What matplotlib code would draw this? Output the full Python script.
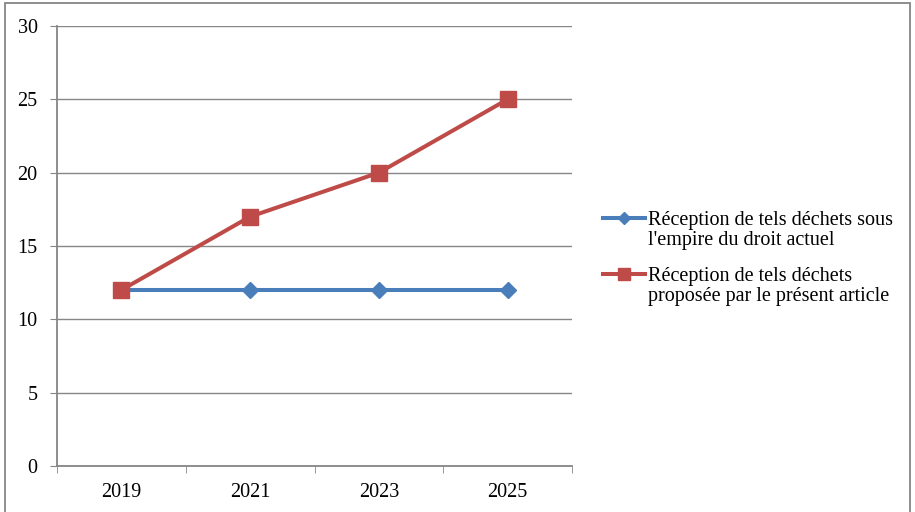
import matplotlib
matplotlib.use("Agg")
import matplotlib.pyplot as plt
from matplotlib.lines import Line2D
from matplotlib.patches import Rectangle

years = ["2019", "2021", "2023", "2025"]
droit_actuel = [12, 12, 12, 12]
present_article = [12, 17, 20, 25]
labels = ["Réception de tels déchets sous\nl'empire du droit actuel",
          "Réception de tels déchets\nproposée par le présent article"]

plt.rcParams["font.family"] = ["Liberation Serif", "DejaVu Serif"]
grey = "#868686"
blue = "#4A7EBB"
red = "#BE4B48"
W, H = 915, 512

fig = plt.figure(figsize=(W / 100, H / 100), dpi=100, facecolor="white")
ax = fig.add_axes([57 / W, 46 / H, 515 / W, 440 / H])

x = range(len(years))
styles = [dict(color=blue, marker="D", ms=8.5), dict(color=red, marker="s", ms=11.5)]
for values, st, lab in zip([droit_actuel, present_article], styles, labels):
    ax.plot(x, values, lw=2.9, mec=st["color"], label=lab, zorder=3, **st)

ax.set_xlim(-0.5, len(years) - 0.5)
ax.set_ylim(0, 30)
ax.set_yticks(range(0, 31, 5))
ax.set_xticks(list(x))
ax.set_xticklabels(years)
ax.set_xticks([i - 0.5 for i in range(len(years) + 1)], minor=True)
ax.tick_params(axis="x", which="major", length=0, pad=12, labelsize=14.5)
ax.tick_params(axis="x", which="minor", length=5, color=grey, direction="out")
ax.tick_params(axis="y", length=5, color=grey, pad=9, labelsize=14.5)
ax.yaxis.grid(True, color=grey, lw=1)
ax.set_axisbelow(True)
for side in ("top", "right"):
    ax.spines[side].set_visible(False)
for side in ("left", "bottom"):
    ax.spines[side].set_color(grey)
    ax.spines[side].set_linewidth(1.3)

# legend drawn by hand so the key sits on the first text line
for i, (st, lab) in enumerate(zip(styles, labels)):
    y = (H - 218 - 56 * i) / H
    fig.add_artist(Line2D([603 / W, 645 / W], [y, y], transform=fig.transFigure,
                          lw=2.9, color=st["color"]))
    fig.add_artist(Line2D([624 / W], [y], transform=fig.transFigure,
                          marker=st["marker"], ms=st["ms"] * 0.75,
                          color=st["color"], mec=st["color"]))
    fig.text(648 / W, y + 7 / H, lab, fontsize=14.5, va="top", ha="left",
             linespacing=1.05)

# chart border
fig.patches.append(Rectangle((5 / W, -0.01), 905 / W, 1 - 3 / H + 0.01,
                             transform=fig.transFigure, fill=False,
                             edgecolor=grey, lw=1.3))

fig.savefig("out.png", dpi=100, facecolor="white")
